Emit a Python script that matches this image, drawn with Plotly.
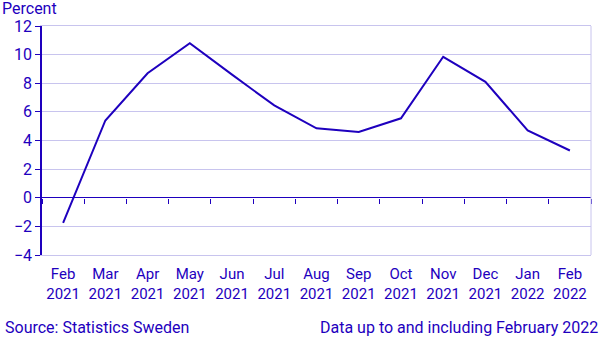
import plotly.graph_objects as go

# Monthly change, percent
months = ["Feb<br>2021", "Mar<br>2021", "Apr<br>2021", "May<br>2021", "Jun<br>2021",
          "Jul<br>2021", "Aug<br>2021", "Sep<br>2021", "Oct<br>2021", "Nov<br>2021",
          "Dec<br>2021", "Jan<br>2022", "Feb<br>2022"]
values = [-1.75, 5.4, 8.7, 10.8, 8.6, 6.45, 4.85, 4.6, 5.55, 9.85, 8.1, 4.7, 3.3]
y_ticks = [-4, -2, 0, 2, 4, 6, 8, 10, 12]

BLUE = "#1E00BE"
GRID = "#C8C4EE"
FONT = "Roboto"

fig = go.Figure()
fig.add_trace(go.Scatter(x=months, y=values, mode="lines",
                         line=dict(color=BLUE, width=2), hoverinfo="skip",
                         showlegend=False))
# invisible trace that carries the zero-line tick axis
fig.add_trace(go.Scatter(x=months, y=values, mode="lines", xaxis="x2",
                         line=dict(color="rgba(0,0,0,0)", width=0),
                         hoverinfo="skip", showlegend=False))

fig.update_layout(
    width=606, height=341,
    margin=dict(l=42, r=15, t=26, b=86),
    paper_bgcolor="white", plot_bgcolor="white",
    font=dict(family=FONT, size=15, color=BLUE),
    xaxis=dict(type="category", showgrid=False, ticks="",
               showline=True, linecolor=GRID, linewidth=1, mirror=True,
               tickfont=dict(size=15, color=BLUE), ticklabelstandoff=5,
               range=[-0.5, 12.5]),
    xaxis2=dict(type="category", overlaying="x", anchor="free", position=0.25,
                matches="x", side="bottom", showticklabels=False,
                showgrid=False, ticks="outside", ticklen=5, tickwidth=1,
                tickcolor=BLUE, tickson="boundaries", showline=False),
    yaxis=dict(range=[-4, 12], tickvals=y_ticks, showgrid=True, gridcolor=GRID,
               gridwidth=1, zeroline=True, zerolinecolor=BLUE, zerolinewidth=1,
               showline=True, linecolor=BLUE, linewidth=1.5,
               ticks="outside", ticklen=5, tickcolor=BLUE,
               tickfont=dict(size=16, color=BLUE)),
    annotations=[
        dict(text="Percent", x=0, xref="paper", xanchor="left", xshift=-42,
             y=1, yref="paper", yanchor="bottom", yshift=6, showarrow=False,
             font=dict(size=16, color=BLUE)),
        dict(text="Source: Statistics Sweden", x=0, xref="paper", xanchor="left",
             xshift=-39, y=0, yref="paper", yanchor="middle", yshift=-72,
             showarrow=False, font=dict(size=16, color=BLUE)),
        dict(text="Data up to and including February 2022", x=1, xref="paper",
             xanchor="right", xshift=9, y=0, yref="paper", yanchor="middle",
             yshift=-72, showarrow=False, font=dict(size=16, color=BLUE)),
    ],
)
# right border line of the plot area
fig.add_shape(type="line", xref="paper", yref="paper", x0=1, x1=1, y0=0, y1=1,
              line=dict(color=GRID, width=1))

fig.write_html("out.html")
